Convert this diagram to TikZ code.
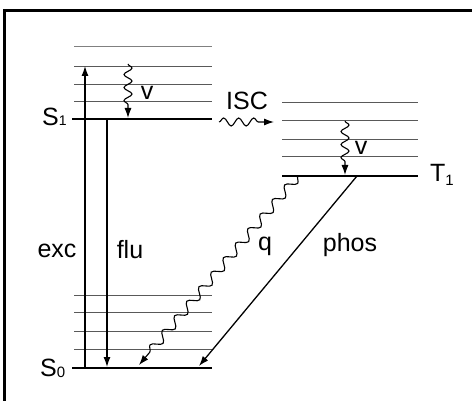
\documentclass[tikz,border=0pt]{standalone}
\usepackage{fontspec}
\setmainfont{Liberation Sans}
\usetikzlibrary{arrows.meta,decorations.pathmorphing}
\begin{document}
\begin{tikzpicture}[x=1pt,y=-1pt,
  lvl/.style={draw=black!65,line width=1pt},
  baselvl/.style={draw=black,line width=1.8pt},
  arr/.style={line width=1.3pt,-{Latex[length=10pt,width=7pt]}},
  wav/.style={line width=1.1pt,-{Latex[length=10pt,width=7pt]},decorate,
    decoration={snake,amplitude=4pt,segment length=13pt,post length=10pt}},
  lab/.style={inner sep=0pt,font=\fontsize{25}{30}\selectfont},
  frame/.style={line width=3pt,line join=miter}]
\useasboundingbox (0,0) rectangle (472,401);
\draw[frame] (4.5,401) -- (4.5,10.5) -- (472,10.5);
% left upper stack
\draw[draw=black!50,line width=1pt] (74,47) -- (212,47);
\foreach \y in {67,85,102} \draw[lvl] (74,\y) -- (212,\y);
\draw[baselvl] (72,119) coordinate (S1l) -- (212,119) coordinate (S1r);
% left lower stack
\foreach \y in {296,313,332,350} \draw[lvl] (74,\y) -- (212,\y);
\draw[baselvl] (72,368) coordinate (S0l) -- (212,368) coordinate (S0r);
% right stack
\foreach \y in {103,121,140,157} \draw[lvl] (282,\y) -- (418,\y);
\draw[baselvl] (282,176) coordinate (T1l) -- (418,176) coordinate (T1r);
% coordinates for transitions
\coordinate (excA) at (85,368); \coordinate (excB) at (85,66);
\coordinate (fluA) at (107,119); \coordinate (fluB) at (107,367);
\coordinate (v1A) at (128,64); \coordinate (v1B) at (128,118);
\coordinate (v2A) at (345,121); \coordinate (v2B) at (345,175);
\coordinate (iscA) at (219,122); \coordinate (iscB) at (274,122);
\coordinate (qA) at (298,176); \coordinate (qB) at (139,365);
\coordinate (phA) at (357,176); \coordinate (phB) at (199,366);
\draw[arr] (excA) -- (excB);
\draw[arr] (fluA) -- (fluB);
\draw[wav] (v1A) -- (v1B);
\draw[wav] (v2A) -- (v2B);
\draw[wav,decoration={snake,amplitude=4pt,segment length=15pt,post length=10pt}] (iscA) -- (iscB);
\draw[wav,decoration={snake,amplitude=4.5pt,segment length=19pt,post length=12pt}] (qA) -- (qB);
\draw[arr] (phA) -- (phB);
% labels
\node[lab,anchor=base west] (s1) at (42,126) {S\fontsize{14}{14}\selectfont 1};
\node[lab,anchor=base west] (s0) at (40,377) {S\raisebox{-1pt}{\fontsize{15}{15}\selectfont 0}};
\node[lab,anchor=base west] (t1) at (430,182) {T\raisebox{-4pt}{\fontsize{15}{15}\selectfont 1}};
\node[lab] (exc) at (57,251) {exc};
\node[lab] (flu) at (130,250) {flu};
\node[lab] (isc) at (247,101) {ISC};
\node[lab] (v1) at (147,93) {v};
\node[lab] (v2) at (361,148) {v};
\node[lab] (q) at (265,246) {q};
\node[lab] (phos) at (350,245) {phos};
\end{tikzpicture}
\end{document}
